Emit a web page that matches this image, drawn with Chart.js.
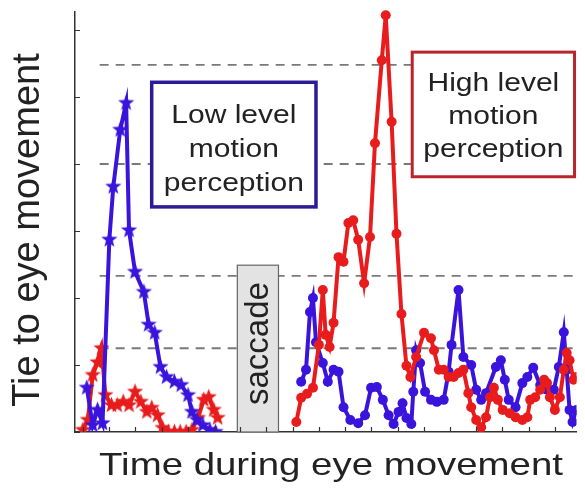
<!DOCTYPE html>
<html>
<head>
<meta charset="utf-8">
<script src="https://cdn.jsdelivr.net/npm/chart.js@4/dist/chart.umd.min.js"></script>
<style>
html, body { margin: 0; padding: 0; background: #fff; }
canvas { display: block; }
</style>
</head>
<body>
<canvas id="eyeChart" width="585" height="493"></canvas>
<script>
// time axis: one tick every 10 units; tie axis: one tick every 10 units
const xTicks = [0, 10, 20, 30, 40, 50, 60, 70, 80, 90, 100, 110, 120, 130, 140, 150, 160, 170, 180];
const yTicks = [0, 10, 20, 30, 40, 50, 60];
const guideLevels = [54.8, 40, 23.3, 12.5];

// before the saccade (stars)
const bluePreTime = [1.5, 3.75, 5.6, 7.5, 10.1, 11.6, 14.25, 16.5, 17.6, 19.9, 23.25, 25.1, 27.4, 29.6, 31.9, 34.9, 37.5, 40.1, 41.6, 43.5, 45.75, 48.4, 50.6];
const bluePreTie = [6.6, 1.0, 3.3, 1.3, 28.7, 36.6, 45.1, 49.1, 30.1, 23.9, 20.9, 16.0, 14.8, 9.7, 8.2, 7.5, 7.0, 5.5, 3.0, 1.8, 1.0, 0.3, 0];
const redPreTime = [0, 1.9, 3.75, 5.6, 7.1, 8.6, 10.9, 13.1, 15.4, 17.6, 19.9, 22.1, 24.4, 26.25, 28.5, 30.4, 32.6, 34.9, 37.1, 39.4, 41.6, 43.9, 46.1, 48, 49.9, 51.4];
const redPreTie = [0.3, 1.8, 8.5, 10.4, 12.5, 5.5, 4.0, 4.0, 4.5, 4.0, 6.0, 4.5, 3.0, 3.6, 2.5, 0.6, 0, 0, 0, 0, 0.3, 2.1, 4.8, 5.2, 3.3, 2.1];

// after the saccade (circles)
const bluePostTime = [83.25, 85.1, 86.6, 87.75, 88.9, 91.5, 93.4, 95.6, 97.5, 99.4, 102, 105, 107.6, 109.9, 112.1, 114.4, 116.6, 118.5, 120.4, 121.9, 123.4, 125.25, 126, 127.1, 128.6, 130.5, 132.75, 135, 137.6, 139.5, 140.6, 143.25, 145.1, 148.1, 150, 151.9, 153.75, 157.5, 159.4, 160.9, 162.4, 165, 167.6, 169.5, 171.75, 174.4, 177, 179.6, 181.5, 183.4, 184.5, 185.6, 186.75, 188.25];
const bluePostTie = [7.5, 9.3, 17.9, 20.0, 13.4, 10.3, 7.5, 9.3, 9.0, 3.7, 1.8, 1.3, 2.5, 6.6, 6.7, 4.8, 2.5, 1.2, 3.0, 4.3, 2.1, 1.2, 6.0, 12.2, 10.3, 6.0, 4.8, 4.5, 4.8, 9.0, 13.0, 21.2, 11.2, 10.0, 6.3, 4.8, 5.8, 9.7, 10.7, 7.8, 4.8, 3.7, 7.3, 8.2, 9.6, 7.0, 6.3, 6.3, 9.7, 14.9, 9.3, 3.3, 1.5, 3.3];
const redPostTime = [81.4, 83.25, 85.5, 87.75, 90, 91.5, 92.6, 94.1, 95.6, 97.5, 99.4, 101.25, 103.1, 105, 107.25, 109.5, 111.4, 114, 115.5, 117.75, 119.6, 121.5, 123.4, 124.9, 127.1, 130.1, 132.75, 133.9, 135.75, 137.6, 139.5, 141.4, 143.25, 145.1, 147, 148.1, 150, 151.9, 153.75, 155.25, 156.75, 158.25, 160.1, 162.75, 165, 167.6, 169.5, 170.6, 172.5, 174.4, 175.9, 177, 178.1, 180, 181.9, 183.4, 184.5, 185.6, 187.1, 188.25];
const redPostTie = [1.5, 5.1, 5.7, 6.6, 13.0, 21.2, 14.5, 12.7, 16.3, 26.1, 25.4, 31.2, 31.6, 28.7, 22.2, 29.1, 43.1, 55.5, 62.2, 46.3, 29.6, 17.6, 9.9, 8.2, 11.2, 14.8, 14.0, 12.2, 9.3, 9.3, 8.2, 8.2, 8.8, 9.3, 5.8, 3.7, 1.8, 0.7, 2.2, 5.2, 6.6, 4.8, 3.3, 2.8, 2.2, 1.8, 2.2, 4.8, 5.2, 6.3, 7.8, 7.3, 5.2, 3.3, 5.2, 9.3, 11.8, 10.7, 7.8, 8.2];

const BLUE = '#3a14dc';
const RED = '#e81c1c';

function zip(xs, ys) {
    return xs.map((x, i) => ({ x: x, y: ys[i] }));
}

function makeStar(color, r) {
    const size = Math.ceil(r * 2 + 2);
    const c = document.createElement('canvas');
    c.width = size;
    c.height = size;
    const g = c.getContext('2d');
    g.fillStyle = color;
    g.beginPath();
    for (let i = 0; i < 10; i++) {
        const rad = i % 2 === 0 ? r : r * 0.42;
        const a = -Math.PI / 2 + i * Math.PI / 5;
        g.lineTo(size / 2 + rad * Math.cos(a), size / 2 + rad * Math.sin(a));
    }
    g.closePath();
    g.fill();
    return c;
}

const clipTop = { left: 0, top: 8, right: 0, bottom: 0 };

function seriesSet(label, xs, ys, color, star) {
    return {
        label: label,
        data: zip(xs, ys),
        borderColor: color,
        backgroundColor: color,
        borderWidth: 4,
        tension: 0,
        pointStyle: star ? makeStar(color, 8.5) : 'circle',
        pointRadius: star ? 8.5 : 5,
        pointBorderWidth: 0,
        clip: clipTop
    };
}

const datasets = [
    seriesSet('blue pre', bluePreTime, bluePreTie, BLUE, true),
    seriesSet('red pre', redPreTime, redPreTie, RED, true),
    seriesSet('red post', redPostTime, redPostTie, RED, false),
    seriesSet('blue post', bluePostTime, bluePostTie, BLUE, false)
];
guideLevels.forEach(level => {
    datasets.push({
        data: [{ x: 6.4, y: level }, { x: 188.25, y: level }],
        borderColor: '#7a7a7a',
        borderWidth: 1.8,
        borderDash: [9, 7],
        pointRadius: 0
    });
});

function stretchedText(ctx, text, x, y, sx, rotate) {
    ctx.save();
    ctx.translate(x, y);
    ctx.scale(sx, 1);
    if (rotate) ctx.rotate(-Math.PI / 2);
    ctx.fillText(text, 0, 0);
    ctx.restore();
}

const decorPlugin = {
    id: 'decor',
    afterDatasetsDraw(chart) {
        const { ctx, scales: { x, y } } = chart;
        const rect = (x0, x1, y0, y1, fill, stroke, lw) => {
            const l = x.getPixelForValue(x0), r = x.getPixelForValue(x1);
            const t = y.getPixelForValue(y1), b = y.getPixelForValue(y0);
            ctx.fillStyle = fill;
            ctx.fillRect(l, t, r - l, b - t);
            ctx.strokeStyle = stroke;
            ctx.lineWidth = lw;
            ctx.strokeRect(l, t, r - l, b - t);
            return { l, r, t, b };
        };
        ctx.save();
        // saccade
        const s = rect(58.9, 74.6, 0, 24.9, '#e3e3e3', '#666', 1.2);
        ctx.fillStyle = '#222';
        ctx.font = '33px "Liberation Sans", Arial, sans-serif';
        ctx.textAlign = 'center';
        ctx.textBaseline = 'middle';
        stretchedText(ctx, 'saccade', (s.l + s.r) / 2 + 1, (s.t + s.b) / 2 - 5, 1, true);

        // boxes
        const lowBox = rect(26.25, 88.9, 33.6, 52.2, '#fff', '#2c1a96', 3.5);
        const highBox = rect(125.6, 187.5, 38.1, 56.7, '#fff', '#b8262c', 3);
        ctx.fillStyle = '#222';
        ctx.font = '25px "Liberation Sans", Arial, sans-serif';
        const lowLines = ['Low level', 'motion', 'perception'];
        const highLines = ['High level', 'motion', 'perception'];
        lowLines.forEach((t, i) => stretchedText(ctx, t, (lowBox.l + lowBox.r) / 2, lowBox.t + 34 + i * 34, 1.2, false));
        highLines.forEach((t, i) => stretchedText(ctx, t, (highBox.l + highBox.r) / 2, highBox.t + 32 + i * 33, 1.2, false));
        ctx.restore();
    },
    afterDraw(chart) {
        const { ctx, scales: { x, y }, chartArea: a } = chart;
        ctx.save();
        ctx.strokeStyle = '#333';
        ctx.lineWidth = 1.2;
        ctx.beginPath();
        yTicks.forEach(v => {
            const py = Math.round(y.getPixelForValue(v)) + 0.5;
            ctx.moveTo(a.left, py);
            ctx.lineTo(a.left + 5, py);
        });
        xTicks.forEach(v => {
            const px = Math.round(x.getPixelForValue(v)) + 0.5;
            ctx.moveTo(px, a.bottom);
            ctx.lineTo(px, a.bottom - 5);
        });
        ctx.stroke();

        ctx.fillStyle = '#222';
        ctx.textAlign = 'center';
        ctx.textBaseline = 'middle';
        ctx.font = '32px "Liberation Sans", Arial, sans-serif';
        stretchedText(ctx, 'Time during eye movement', 331, 466, 1.2, false);
        ctx.font = '38px "Liberation Sans", Arial, sans-serif';
        stretchedText(ctx, 'Tie to eye movement', 29, 230, 1, true);
        ctx.restore();
    }
};

new Chart(document.getElementById('eyeChart'), {
    type: 'line',
    data: { datasets: datasets },
    options: {
        responsive: false,
        animation: false,
        events: [],
        layout: { padding: { left: 75, top: 12, right: 0, bottom: 61 } },
        plugins: { legend: { display: false }, tooltip: { enabled: false } },
        scales: {
            x: {
                type: 'linear',
                min: -3,
                max: 188.25,
                ticks: { display: false },
                grid: { display: false },
                border: { display: true, color: '#333', width: 1.5 },
                afterFit: s => { s.height = 0; }
            },
            y: {
                type: 'linear',
                min: 0,
                max: 62.69,
                ticks: { display: false },
                grid: { display: false },
                border: { display: true, color: '#333', width: 1.5 },
                afterFit: s => { s.width = 0; }
            }
        }
    },
    plugins: [decorPlugin]
});
</script>
</body>
</html>
